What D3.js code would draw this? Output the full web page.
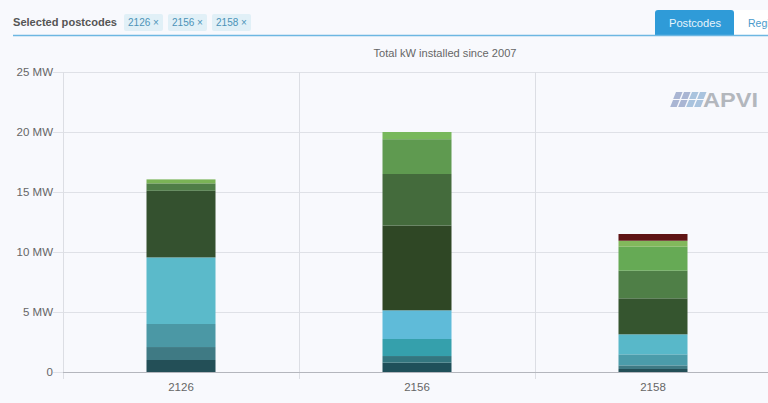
<!DOCTYPE html>
<html>
<head>
<meta charset="utf-8">
<script src="https://cdn.jsdelivr.net/npm/d3@7"></script>
<style>
html, body { margin: 0; padding: 0; background: #f8f9fd; overflow: hidden; }
svg { display: block; font-family: "Liberation Sans", Arial, sans-serif; }
.axis text { fill: #666; font-size: 11.5px; }
.axis .domain { display: none; }
</style>
</head>
<body>
<div id="chart"></div>
<script>
var postcodes = ["2126", "2156", "2158"];
var yTicks = [0, 5, 10, 15, 20, 25];
var chips = ["2126 ×", "2156 ×", "2158 ×"];
var layers = ["a", "b", "c", "d", "e", "f", "g", "h", "i"];

// MW in each layer, bottom to top, one list per postcode
var values2126 = [1.0, 1.08, 1.92, 5.55, 5.55, 0, 0.62, 0.33, 0];
var values2156 = [0.78, 0.55, 1.42, 2.39, 7.06, 4.3, 2.9, 0.6, 0];
var values2158 = [0.25, 0.3, 0.92, 1.67, 3.0, 2.3, 2.0, 0.5, 0.56];

var colors2126 = ["#234f57", "#3f7a84", "#4b98a5", "#5bbaca", "#34512f", "#446b3c", "#4f7d47", "#7ab356", "#5f1414"];
var colors2156 = ["#1f505a", "#33767f", "#35a0ac", "#5fbbd9", "#2f4725", "#446b3c", "#5f9a50", "#78b85c", "#5f1414"];
var colors2158 = ["#234f57", "#3f7a84", "#4b9caa", "#58b8c9", "#35552f", "#4f7f47", "#66aa55", "#82b85c", "#5f1414"];

function init() {
    var w = 768;
    var h = 403;
    var svg = d3.select("#chart").append("svg").attr("width", w).attr("height", h);

    drawHeader(svg);
    drawLogo(svg);
    barChart(svg);
}

function drawHeader(svg) {
    svg.append("text")
        .attr("x", 13).attr("y", 26)
        .attr("font-size", 10.5).attr("font-weight", "bold").attr("fill", "#555")
        .attr("textLength", 104).attr("lengthAdjust", "spacingAndGlyphs")
        .text("Selected postcodes");

    var chipX = d3.scalePoint().domain(chips).range([124, 212]);
    var chip = svg.selectAll(".chip").data(chips).enter().append("g").attr("class", "chip")
        .attr("transform", function(d) { return "translate(" + chipX(d) + ",14)"; });
    chip.append("rect")
        .attr("width", 39).attr("height", 17).attr("rx", 2)
        .attr("fill", "#e1f0f7");
    chip.append("text")
        .attr("x", 19.5).attr("y", 12)
        .attr("text-anchor", "middle").attr("font-size", 10).attr("fill", "#4c93b8")
        .text(function(d) { return d; });

    svg.append("rect").attr("x", 734).attr("y", 10).attr("width", 34).attr("height", 25).attr("fill", "#ffffff");
    svg.append("text")
        .attr("x", 748).attr("y", 27)
        .attr("font-size", 10.5).attr("fill", "#4a9acb")
        .text("Regions");
    svg.append("path")
        .attr("d", "M655,35V13a3,3 0 0 1 3,-3H731a3,3 0 0 1 3,3V35Z")
        .attr("fill", "#2f9bd8");
    svg.append("text")
        .attr("x", 695).attr("y", 27)
        .attr("text-anchor", "middle").attr("font-size", 10.5).attr("fill", "#e8f4fb")
        .attr("textLength", 52).attr("lengthAdjust", "spacingAndGlyphs")
        .text("Postcodes");
    svg.append("line")
        .attr("x1", 13).attr("x2", 768).attr("y1", 35.5).attr("y2", 35.5)
        .attr("stroke", "#6db7e2").attr("stroke-width", 1.3);

    svg.append("text")
        .attr("x", 445).attr("y", 57)
        .attr("text-anchor", "middle").attr("font-size", 10.5).attr("fill", "#666")
        .attr("textLength", 143).attr("lengthAdjust", "spacingAndGlyphs")
        .text("Total kW installed since 2007");
}

function drawLogo(svg) {
    var logo = svg.append("g").attr("transform", "translate(670,92)");
    var tiles = d3.cross([0, 1, 2, 3], [0, 1]);
    logo.selectAll("path").data(tiles).enter().append("path")
        .attr("d", function(d) {
            var x = d[0] * 8 + (1 - d[1]) * 3;
            var y = d[1] * 8;
            return "M" + (x + 3) + "," + y + "h6.5l-2.8,7h-6.5Z";
        })
        .attr("fill", function(d) { return d[0] < 2 ? "#a9b5d3" : "#a9c3de"; });
    logo.append("text")
        .attr("x", 33).attr("y", 15)
        .attr("font-size", 20).attr("font-weight", "bold").attr("fill", "#b3b7bd")
        .attr("textLength", 55).attr("lengthAdjust", "spacingAndGlyphs")
        .text("APVI");
}

function barChart(svg) {
    var left = 63;
    var right = 771;
    var top = 72;
    var bottom = 372;
    var gap = 1 - 69 / 236;

    var table = postcodes.map(function(p, i) {
        var list = [values2126, values2156, values2158][i];
        var row = { postcode: p };
        layers.forEach(function(k, j) { row[k] = list[j]; });
        return row;
    });
    var palette = { "2126": colors2126, "2156": colors2156, "2158": colors2158 };

    var xScale = d3.scaleBand()
        .domain(postcodes)
        .range([left, right])
        .paddingInner(gap)
        .paddingOuter(gap / 2);

    var yScale = d3.scaleLinear().domain([0, 25]).range([bottom, top]);

    // horizontal grid
    svg.append("g")
        .selectAll("line")
        .data(yTicks.slice(1))
        .enter().append("line")
        .attr("x1", left).attr("x2", 768)
        .attr("y1", function(d) { return yScale(d) + 0.5; })
        .attr("y2", function(d) { return yScale(d) + 0.5; })
        .attr("stroke", "#dfe1e7");

    // vertical separators between the postcodes
    var step = xScale.step();
    svg.append("g")
        .selectAll("line")
        .data(postcodes)
        .enter().append("line")
        .attr("x1", function(d) { return xScale(d) + xScale.bandwidth() / 2 - step / 2 + 0.5; })
        .attr("x2", function(d) { return xScale(d) + xScale.bandwidth() / 2 - step / 2 + 0.5; })
        .attr("y1", top).attr("y2", bottom + 7)
        .attr("stroke", "#dcdee4");

    var stacked = d3.stack().keys(layers)(table);

    svg.append("g")
        .selectAll("g")
        .data(stacked)
        .enter().append("g")
        .selectAll("rect")
        .data(function(s) {
            return s.map(function(d, i) {
                return { y0: d[0], y1: d[1], postcode: d.data.postcode, layer: s.index };
            });
        })
        .enter().append("rect")
        .attr("x", function(d) { return xScale(d.postcode); })
        .attr("width", xScale.bandwidth())
        .attr("y", function(d) { return yScale(d.y1); })
        .attr("height", function(d) { return yScale(d.y0) - yScale(d.y1); })
        .attr("fill", function(d) { return palette[d.postcode][d.layer]; });

    // baseline
    svg.append("line")
        .attr("x1", left).attr("x2", 768)
        .attr("y1", bottom + 0.5).attr("y2", bottom + 0.5)
        .attr("stroke", "#b4b6bd");

    var yAxis = d3.axisLeft(yScale)
        .tickValues(yTicks)
        .tickSize(10)
        .tickPadding(0)
        .tickFormat(function(d) { return d === 0 ? "0" : d + " MW"; });

    var gy = svg.append("g")
        .attr("class", "axis")
        .attr("transform", "translate(" + left + ",0)")
        .call(yAxis);
    gy.selectAll(".tick line").attr("stroke", "#dfe1e7");

    var xAxis = d3.axisBottom(xScale).tickSize(0).tickPadding(11);
    svg.append("g")
        .attr("class", "axis")
        .attr("transform", "translate(0," + bottom + ")")
        .call(xAxis);
}

window.onload = init;
</script>
</body>
</html>
